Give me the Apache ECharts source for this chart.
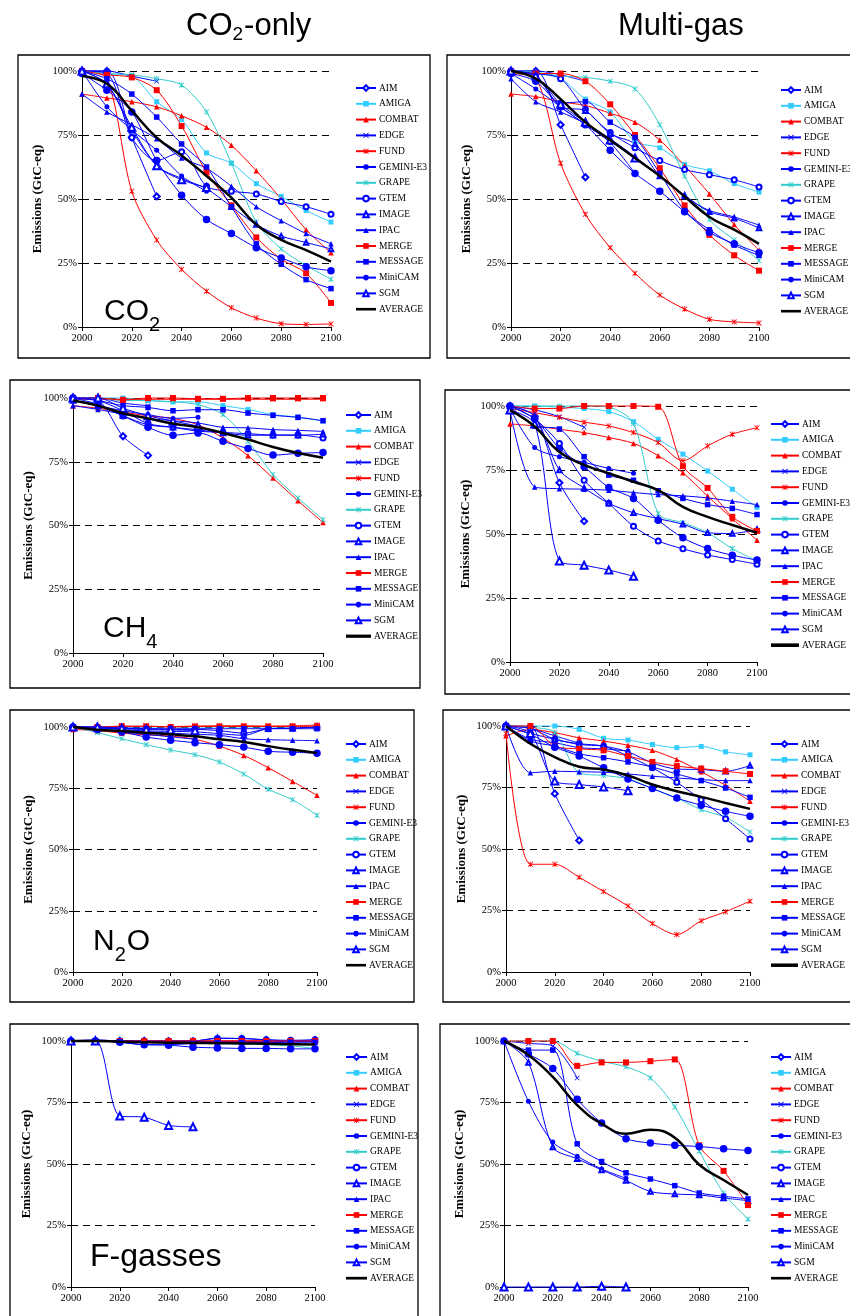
<!DOCTYPE html>
<html>
<head>
<meta charset="utf-8">
<script src="https://cdn.jsdelivr.net/npm/echarts@6/dist/echarts.min.js"></script>
<style>
  html, body { margin: 0; padding: 0; background: #fff; }
  #chart { width: 850px; height: 1316px; }
</style>
</head>
<body>
<div id="chart"></div>
<script>
// Emission paths relative to 2000 (%), per model, for each gas and strategy.
const years = [2000, 2010, 2020, 2030, 2040, 2050, 2060, 2070, 2080, 2090, 2100];
const models = ['AIM', 'AMIGA', 'COMBAT', 'EDGE', 'FUND', 'GEMINI-E3', 'GRAPE', 'GTEM',
                'IMAGE', 'IPAC', 'MERGE', 'MESSAGE', 'MiniCAM', 'SGM', 'AVERAGE'];
const yTickValues = [0, 25, 50, 75, 100];

// CO2 emissions, CO2-only strategy
const co2OnlyCO2 = {
  'AIM':       [100, 100, 74, 51],
  'AMIGA':     [100, 99, 98, 88, 81, 68, 64, 56, 51, 45.5, 41],
  'COMBAT':    [91, 89.5, 88, 86, 82.5, 78, 71, 61, 50, 38, 29],
  'EDGE':      [100, 100, 98, 96],
  'FUND':      [100, 97, 53, 34, 22.5, 14, 7.5, 3.5, 1.3, 1, 1.2],
  'GEMINI-E3': [100, 86, 77, 69, 59, 53],
  'GRAPE':     [100, 99, 98.5, 97, 94.5, 84, 64, 41, 30.5, 24, 18.7],
  'GTEM':      [100, 99, 74, 65, 68.5, 55, 53, 52, 49, 47, 44],
  'IMAGE':     [100, 95, 77, 63, 58, 54, 47, 40, 35.5, 33, 30.5],
  'IPAC':      [91, 84, 79, 73.5, 66, 62, 55, 47, 41.5, 36.5, 32.5],
  'MERGE':     [100, 98.5, 97.5, 92.5, 78.5, 60.5, 47.5, 35, 26.5, 21, 9.4],
  'MESSAGE':   [100, 97, 91, 82, 71.5, 62.5, 47, 32.5, 24.5, 18.5, 15],
  'MiniCAM':   [99, 92.5, 84, 65, 51.5, 42, 36.5, 31, 27, 23.5, 22],
  'SGM':       [100, 95, 78, 63, 57.5, 54.5],
  'AVERAGE':   [98, 95, 84.5, 74, 67, 59, 50.5, 40, 34, 30, 25.5]
};

// CO2 emissions, multi-gas strategy
const multiGasCO2 = {
  'AIM':       [100, 100, 79, 58.5],
  'AMIGA':     [100, 99, 97, 89, 84, 72.5, 70, 63.5, 61, 56, 52.7],
  'COMBAT':    [91, 90, 88, 86.5, 83.5, 80, 73, 63, 52, 40, 30],
  'EDGE':      [100, 100, 98.5, 96],
  'FUND':      [99, 97, 64, 44, 31, 21, 12.5, 7, 3, 2, 1.6],
  'GEMINI-E3': [99, 93, 86, 79, 72, 60],
  'GRAPE':     [100, 99.5, 98, 97.5, 96, 93, 79, 59, 42, 34, 26],
  'GTEM':      [100, 99, 97, 85, 76, 70, 65, 61.5, 59.5, 57.5, 54.7],
  'IMAGE':     [100, 98, 86, 84.5, 75.5, 71.5, 59, 51.5, 45, 42.5, 38.7],
  'IPAC':      [97, 88, 84, 79.5, 73.5, 66.5, 59, 51, 45.5, 43, 39.8],
  'MERGE':     [100, 99, 99, 96, 87, 75, 62, 47.5, 36, 28, 22],
  'MESSAGE':   [100, 98, 87.5, 88, 80, 74, 60, 45.5, 38, 32, 28],
  'MiniCAM':   [99, 96, 86, 79, 69, 60, 53, 45, 37, 32.5, 29],
  'SGM':       [100, 98, 87, 80, 73, 66],
  'AVERAGE':   [100, 97, 89, 80, 73, 66, 59, 51, 43, 38, 32.5]
};

// CH4 emissions, CO2-only strategy
const co2OnlyCH4 = {
  'AIM':       [100, 99, 85, 77.5],
  'AMIGA':     [100, 100, 100, 99, 98.5, 98.5, 97, 95.5, 93.5, 92.5, 91],
  'COMBAT':    [97, 96, 94.5, 93, 92, 89.5, 84.3, 77.4, 68.6, 59.7, 51.2],
  'EDGE':      [100, 100, 98, 97],
  'FUND':      [99.5, 99.5, 99.5, 99.5, 99.5, 99.5, 99.5, 99.5, 99.5, 99.5, 99.5],
  'GEMINI-E3': [99, 97, 95, 93.5, 92, 92.5],
  'GRAPE':     [100, 100, 99, 99, 98.5, 97.4, 93.5, 83, 70, 60.8, 52.3],
  'GTEM':      [100, 99, 95, 90, 88.5, 87, 86.5, 86, 85.5, 85.5, 84.3],
  'IMAGE':     [99, 97, 93, 89.5, 88.5, 87.5, 86.3, 85.4, 85.4, 85.4, 85.8],
  'IPAC':      [97, 95.5, 93.7, 92, 91.1, 90.2, 88.5, 88.3, 87.6, 87.3, 86.9],
  'MERGE':     [100, 100, 99.2, 100, 100, 99.7, 99.7, 100, 100, 100, 100],
  'MESSAGE':   [100, 99, 97, 96.3, 95, 95.4, 95.4, 94.1, 93.2, 92.4, 91.1],
  'MiniCAM':   [100, 97.5, 93, 88.5, 85.4, 86.3, 83, 80.2, 77.6, 78.3, 78.6],
  'SGM':       [100, 100, 96, 93, 91, 89],
  'AVERAGE':   [99, 97, 94, 92, 90, 88.5, 86.3, 83.7, 80.8, 78.4, 76.6]
};

// CH4 emissions, multi-gas strategy
const multiGasCH4 = {
  'AIM':       [100, 96, 70, 55],
  'AMIGA':     [100, 100, 99.5, 99, 97.8, 93.9, 87, 81.2, 74.6, 67.5, 60.4],
  'COMBAT':    [93, 92.2, 90.9, 89.6, 87.7, 85.4, 80.6, 73.9, 64.8, 56, 47.6],
  'EDGE':      [100, 98.5, 95.8, 91.7],
  'FUND':      [99, 97.4, 95.6, 93.7, 92.2, 89.6, 85.7, 78.6, 84.4, 89, 91.5],
  'GEMINI-E3': [99, 83.8, 80.2, 78, 75.6, 73.7],
  'GRAPE':     [100, 100, 100, 100, 99.5, 93.2, 58, 54.4, 50.5, 44.3, 39.5],
  'GTEM':      [100, 95, 85.4, 71, 62, 53, 47.3, 44.2, 41.8, 40, 38.2],
  'IMAGE':     [100, 96, 75, 68, 62, 58.3, 56, 53.8, 50.5, 50.2, 51.8],
  'IPAC':      [98.4, 68.4, 67.7, 67.5, 67.1, 66.2, 65.4, 64.9, 64.1, 62.8, 61.5],
  'MERGE':     [100, 99, 99, 100, 100, 100, 99.7, 76.5, 68, 56.7, 51.2],
  'MESSAGE':   [100, 92.2, 91, 80.2, 73, 71, 66.9, 63.9, 61.5, 60, 57.6],
  'MiniCAM':   [100, 95, 83.4, 76.3, 68.2, 63.9, 55.4, 48.5, 44.3, 41.7, 39.8],
  'SGM':       [98.4, 93, 39.5, 37.8, 35.9, 33.5],
  'AVERAGE':   [98.4, 92, 82, 77, 73.7, 70.4, 67.1, 60.6, 56.7, 53.5, 50.5]
};

// N2O emissions, CO2-only strategy
const co2OnlyN2O = {
  'AIM':       [100, 100, 99.5, 99],
  'AMIGA':     [100, 100, 100, 100, 100, 100, 100, 100, 100, 100, 100],
  'COMBAT':    [99, 98.5, 97.5, 96.8, 96.3, 95, 92.2, 88.4, 83.4, 77.8, 72.1],
  'EDGE':      [100, 100, 99.5, 99.5],
  'FUND':      [100, 99.7, 100.3, 100.3, 100.2, 100.4, 100.5, 100.5, 100.4, 100.5, 100.8],
  'GEMINI-E3': [100, 99, 98, 97, 96, 95],
  'GRAPE':     [100, 97.7, 95.2, 92.8, 90.6, 88.7, 85.7, 80.8, 74.6, 70.3, 64],
  'GTEM':      [100, 99.8, 99.5, 99.3, 99, 99, 98.5, 97.5, 99.3, 99.5, 100],
  'IMAGE':     [100, 99.6, 99, 98.4, 98.2, 98, 97.3, 96.6, 99.3, 99.5, 100],
  'IPAC':      [100, 99, 98.5, 98, 97.5, 97, 96.6, 95.2, 94.8, 94.6, 94.4],
  'MERGE':     [99.5, 100, 100.3, 100.3, 100, 100.2, 100.2, 100.2, 100.2, 100.2, 100.3],
  'MESSAGE':   [100, 99.5, 99.3, 99.3, 99.3, 99.3, 99.3, 99.3, 99.3, 99.3, 99.3],
  'MiniCAM':   [100, 99, 98, 95.9, 94.6, 93.6, 92.8, 91.8, 90.1, 89.7, 89.3],
  'SGM':       [100, 100, 99.5, 99, 98.8, 98.5],
  'AVERAGE':   [100, 98.9, 98.4, 97.7, 97, 96.2, 95, 93.9, 92.2, 90.7, 89.4]
};

// N2O emissions, multi-gas strategy
const multiGasN2O = {
  'AIM':       [100, 99.6, 72.5, 53.5],
  'AMIGA':     [100, 100, 100, 98.6, 95, 94.3, 92.5, 91.2, 91.7, 89.5, 88.3],
  'COMBAT':    [96, 98.6, 97.3, 95.2, 93.9, 92.2, 90.1, 86.4, 81.4, 75.9, 69.4],
  'EDGE':      [100, 99, 96, 93],
  'FUND':      [97, 43.8, 43.8, 38.5, 32.7, 26.8, 19.7, 15.2, 20.8, 24.5, 28.8],
  'GEMINI-E3': [100, 94.6, 93.2, 91.2, 90.7, 89.8],
  'GRAPE':     [100, 99.5, 97.3, 81, 79.9, 78.5, 74.6, 70.7, 66, 62.9, 56.9],
  'GTEM':      [100, 99, 94.6, 92.8, 91.8, 87.8, 83, 77.1, 70, 62.3, 54.1],
  'IMAGE':     [100, 97, 94.6, 92.5, 91.8, 89.5, 85, 82.5, 82.3, 81.6, 83.9],
  'IPAC':      [100, 81, 81.6, 81.4, 81.2, 80.5, 79.6, 78.9, 78.2, 77.8, 77.8],
  'MERGE':     [100, 100, 91.8, 90.7, 90.1, 87.8, 85.4, 83.7, 82.7, 81.6, 80.5],
  'MESSAGE':   [100, 93.9, 91.8, 88.7, 87.1, 85.4, 83.3, 80.5, 77.8, 74.8, 71],
  'MiniCAM':   [100, 96.6, 91.4, 87.8, 83, 78.5, 74.6, 70.7, 67.8, 65.3, 63.3],
  'SGM':       [100, 97, 77.6, 76.2, 75.2, 73.7],
  'AVERAGE':   [100, 92.8, 87.3, 83.4, 82.3, 79.9, 76.2, 73.5, 71.2, 68.7, 66.3]
};

// F-gas emissions, CO2-only strategy
const co2OnlyFgas = {
  'AIM':       [100, 100, 100, 100],
  'AMIGA':     [100, 100, 100, 100, 100, 100, 100, 100, 100, 100, 100],
  'COMBAT':    [100, 100, 100, 100, 100, 100, 100, 100, 100, 100, 100],
  'EDGE':      [100, 100, 100, 100],
  'FUND':      [100, 100, 100, 100, 100, 100, 100, 100, 100, 100, 100],
  'GEMINI-E3': [100, 100, 99.7, 99.5, 99.3, 99.2],
  'GRAPE':     [100, 100, 99.8, 99.5, 99.3, 99.2, 99, 98.8, 98.5, 98, 97],
  'GTEM':      [100, 100, 100, 100, 100, 100, 101, 101, 100.5, 100.3, 100.5],
  'IMAGE':     [100, 100.5, 100, 100, 100, 100, 101.2, 101, 100.5, 100, 100.5],
  'IPAC':      [100, 100, 100, 99.8, 99.8, 99.8, 99.8, 99.7, 99.7, 99.7, 99.7],
  'MERGE':     [100, 100, 100, 100, 100, 100, 100, 100, 100, 100, 100],
  'MESSAGE':   [100, 100, 99.5, 98.5, 98.5, 99, 99.3, 99.3, 99.3, 99.5, 99.5],
  'MiniCAM':   [100, 100, 99.5, 98.5, 98.3, 97.5, 97.2, 97, 97, 96.8, 96.8],
  'SGM':       [100, 100, 69.5, 69, 65.7, 65.1],
  'AVERAGE':   [100, 100, 99.7, 99.5, 99.3, 99.2, 99.1, 99, 98.9, 98.7, 98.6]
};

// F-gas emissions, multi-gas strategy
const multiGasFgas = {
  'AIM':       [],
  'AMIGA':     [],
  'COMBAT':    [],
  'EDGE':      [100, 99, 98, 85],
  'FUND':      [],
  'GEMINI-E3': [100, 75.5, 58.9, 53.1, 48, 44.2],
  'GRAPE':     [100, 100, 100, 95, 91.8, 89.5, 85, 73.2, 55.2, 38.2, 27.6],
  'GTEM':      [],
  'IMAGE':     [100, 91.3, 56.9, 52.1, 47.6, 43.3, 38.8, 37.8, 37.4, 36.2, 35.1],
  'IPAC':      [],
  'MERGE':     [100, 100, 100, 89.9, 91.3, 91.3, 91.8, 92.5, 57.6, 47.2, 33.3],
  'MESSAGE':   [100, 96.3, 96.3, 58.2, 51, 46.4, 43.9, 41.2, 38.2, 36.9, 35.8],
  'MiniCAM':   [100, 94.7, 88.8, 76.3, 66.7, 60.3, 58.5, 57.6, 57.1, 56.2, 55.5],
  'SGM':       [0, 0, 0, 0, 0.3, 0],
  'AVERAGE':   [100, 94.3, 85.4, 73.9, 66.4, 62.3, 63.9, 60.7, 49.7, 43.5, 37.4]
};

// ---- styling ----
const SERIF = '"Liberation Serif", "Times New Roman", serif';
const SANS = '"Liberation Sans", Arial, sans-serif';
const BLUE = '#0000FF', RED = '#FF0000', SKY = '#33CCFF', TEAL = '#33CCCC';
const X_MARK = 'path://M0,1L1,0L5,4L9,0L10,1L6,5L10,9L9,10L5,6L1,10L0,9L4,5Z';
const STAR_MARK = X_MARK + 'M4.4,0L5.6,0L5.6,10L4.4,10Z';
const BAR_ICON = 'path://M0,0L20,0L20,2.6L0,2.6Z';

const modelStyle = {
  'AIM':       { color: BLUE, symbol: 'emptyDiamond', size: 6, empty: true },
  'AMIGA':     { color: SKY, symbol: 'rect', size: 5 },
  'COMBAT':    { color: RED, symbol: 'triangle', size: 5.5 },
  'EDGE':      { color: BLUE, symbol: X_MARK, size: 5 },
  'FUND':      { color: RED, symbol: STAR_MARK, size: 5.5 },
  'GEMINI-E3': { color: BLUE, symbol: 'circle', size: 5 },
  'GRAPE':     { color: TEAL, symbol: STAR_MARK, size: 5.5 },
  'GTEM':      { color: BLUE, symbol: 'emptyCircle', size: 5, empty: true },
  'IMAGE':     { color: BLUE, symbol: 'emptyTriangle', size: 4.5, empty: true },
  'IPAC':      { color: BLUE, symbol: 'triangle', size: 5.5 },
  'MERGE':     { color: RED, symbol: 'rect', size: 6 },
  'MESSAGE':   { color: BLUE, symbol: 'rect', size: 5.5 },
  'MiniCAM':   { color: BLUE, symbol: 'circle', size: 7.5 },
  'SGM':       { color: BLUE, symbol: 'emptyTriangle', size: 7, empty: true },
  'AVERAGE':   { color: '#000000', symbol: 'none', size: 0, width: 2.5 }
};

// Panel layout: plot area, legend, frame and gas label
const panels = [
  { values: co2OnlyCO2,   grid: [82, 71, 249, 256],   legend: [355, 83, 20],  box: [18, 55, 412, 303],
    label: { x: 104, y: 312, parts: [['CO', 30, 0], ['2', 20, 13]] } },
  { values: multiGasCO2,  grid: [511, 71, 248, 256],  legend: [780, 85, 20],  box: [447, 55, 420, 303] },
  { values: co2OnlyCH4,   grid: [73, 398, 250, 255],  legend: [345, 410, 25], box: [10, 380, 410, 308],
    label: { x: 103, y: 629, parts: [['CH', 30, 0], ['4', 20, 13]] } },
  { values: multiGasCH4,  grid: [510, 406, 247, 256], legend: [770, 419, 28], box: [445, 390, 420, 304] },
  { values: co2OnlyN2O,   grid: [73, 727, 244, 245],  legend: [345, 739, 20], box: [10, 710, 404, 292],
    label: { x: 93, y: 942, parts: [['N', 30, 0], ['2', 20, 13], ['O', 30, 0]] } },
  { values: multiGasN2O,  grid: [506, 726, 244, 246], legend: [770, 739, 27], box: [443, 710, 420, 292] },
  { values: co2OnlyFgas,  grid: [71, 1041, 244, 246], legend: [345, 1052, 21], box: [10, 1024, 408, 300],
    label: { x: 90, y: 1257, parts: [['F-gasses', 32, 0]] } },
  { values: multiGasFgas, grid: [504, 1041, 244, 246], legend: [770, 1052, 20], box: [440, 1024, 420, 300] }
];

const measureCtx = document.createElement('canvas').getContext('2d');
function textWidth(str, size) {
  measureCtx.font = size + 'px ' + SANS;
  return measureCtx.measureText(str).width;
}

// Text made of pieces with their own size and vertical offset (for subscripts)
function composedText(x, y, parts) {
  const out = [];
  let cx = x;
  parts.forEach(([str, size, dy]) => {
    out.push({
      type: 'text', x: cx, y: y + dy, silent: true,
      style: { text: str, fontFamily: SANS, fontSize: size, fill: '#000',
               align: 'left', verticalAlign: 'middle' }
    });
    cx += textWidth(str, size) + (dy ? 1 : 0);
  });
  return out;
}

const legendItems = models.map(name => (name === 'AVERAGE' ? { name, icon: BAR_ICON } : { name }));
const grids = [], xAxes = [], yAxes = [], legends = [], series = [], graphics = [];

panels.forEach((p, i) => {
  const [gl, gt, gw, gh] = p.grid;
  grids.push({ left: gl, top: gt, width: gw, height: gh, containLabel: false });

  xAxes.push({
    gridIndex: i, type: 'value', min: years[0], max: years[years.length - 1], interval: 20,
    axisLine: { onZero: false, lineStyle: { color: '#000', width: 1 } },
    axisTick: { show: true, length: 4, lineStyle: { color: '#000' } },
    axisLabel: { formatter: v => String(v), fontFamily: SERIF, fontSize: 10.5, color: '#000', margin: 6 },
    splitLine: { show: false }
  });

  yAxes.push({
    gridIndex: i, type: 'value', min: yTickValues[0], max: yTickValues[yTickValues.length - 1],
    interval: yTickValues[1] - yTickValues[0],
    name: 'Emissions (GtC-eq)', nameLocation: 'middle', nameGap: 38, nameRotate: 90,
    nameTextStyle: { fontFamily: SERIF, fontWeight: 'bold', fontSize: 13, color: '#000' },
    axisLine: { show: true, lineStyle: { color: '#000', width: 1 } },
    axisTick: { show: true, length: 4, lineStyle: { color: '#000' } },
    axisLabel: { formatter: '{value}%', fontFamily: SERIF, fontSize: 10.5, color: '#000', margin: 5 },
    splitLine: { show: true, lineStyle: { color: '#000', width: 1, type: [7, 5] } }
  });

  const [ll, lt, lw] = p.legend;
  legends.push({
    orient: 'vertical', left: ll, top: lt, padding: 0,
    itemWidth: lw, itemHeight: 7, itemGap: 5.8, selectedMode: false,
    data: legendItems,
    textStyle: { fontFamily: SERIF, fontSize: 9.5, color: '#000', padding: [0, 0, 0, -2] }
  });

  models.forEach(name => {
    const st = modelStyle[name];
    const vals = p.values[name] || [];
    const pts = [];
    vals.forEach((v, k) => { if (v !== null && v !== undefined) pts.push([years[k], v]); });
    series.push({
      type: 'line', name, xAxisIndex: i, yAxisIndex: i, data: pts,
      smooth: name === 'AVERAGE' ? 0.45 : 0.3,
      symbol: st.symbol, symbolSize: st.size, showSymbol: st.symbol !== 'none',
      showAllSymbol: true, clip: false, animation: false,
      lineStyle: { color: st.color, width: st.width || 1 },
      itemStyle: { color: st.color, borderColor: st.color, borderWidth: st.empty ? 1 : 0 },
      emphasis: { disabled: true }, z: name === 'AVERAGE' ? 4 : 3
    });
  });

  const [bx, by, bw, bh] = p.box;
  graphics.push({
    type: 'rect', shape: { x: bx, y: by, width: bw, height: bh }, silent: true, z: -1,
    style: { fill: 'none', stroke: '#000', lineWidth: 1.3 }
  });

  if (p.label) graphics.push(...composedText(p.label.x, p.label.y, p.label.parts));
});

// Column headings
graphics.push(...composedText(186, 26, [['CO', 31, 0], ['2', 19, 9], ['-only', 31, 0]]));
graphics.push(...composedText(618, 26, [['Multi-gas', 31, 0]]));

const chart = echarts.init(document.getElementById('chart'), null, { renderer: 'canvas', width: 850, height: 1316 });
chart.setOption({
  animation: false,
  backgroundColor: '#fff',
  grid: grids,
  xAxis: xAxes,
  yAxis: yAxes,
  legend: legends,
  series: series,
  graphic: graphics,
  tooltip: { show: false }
});
</script>
</body>
</html>
